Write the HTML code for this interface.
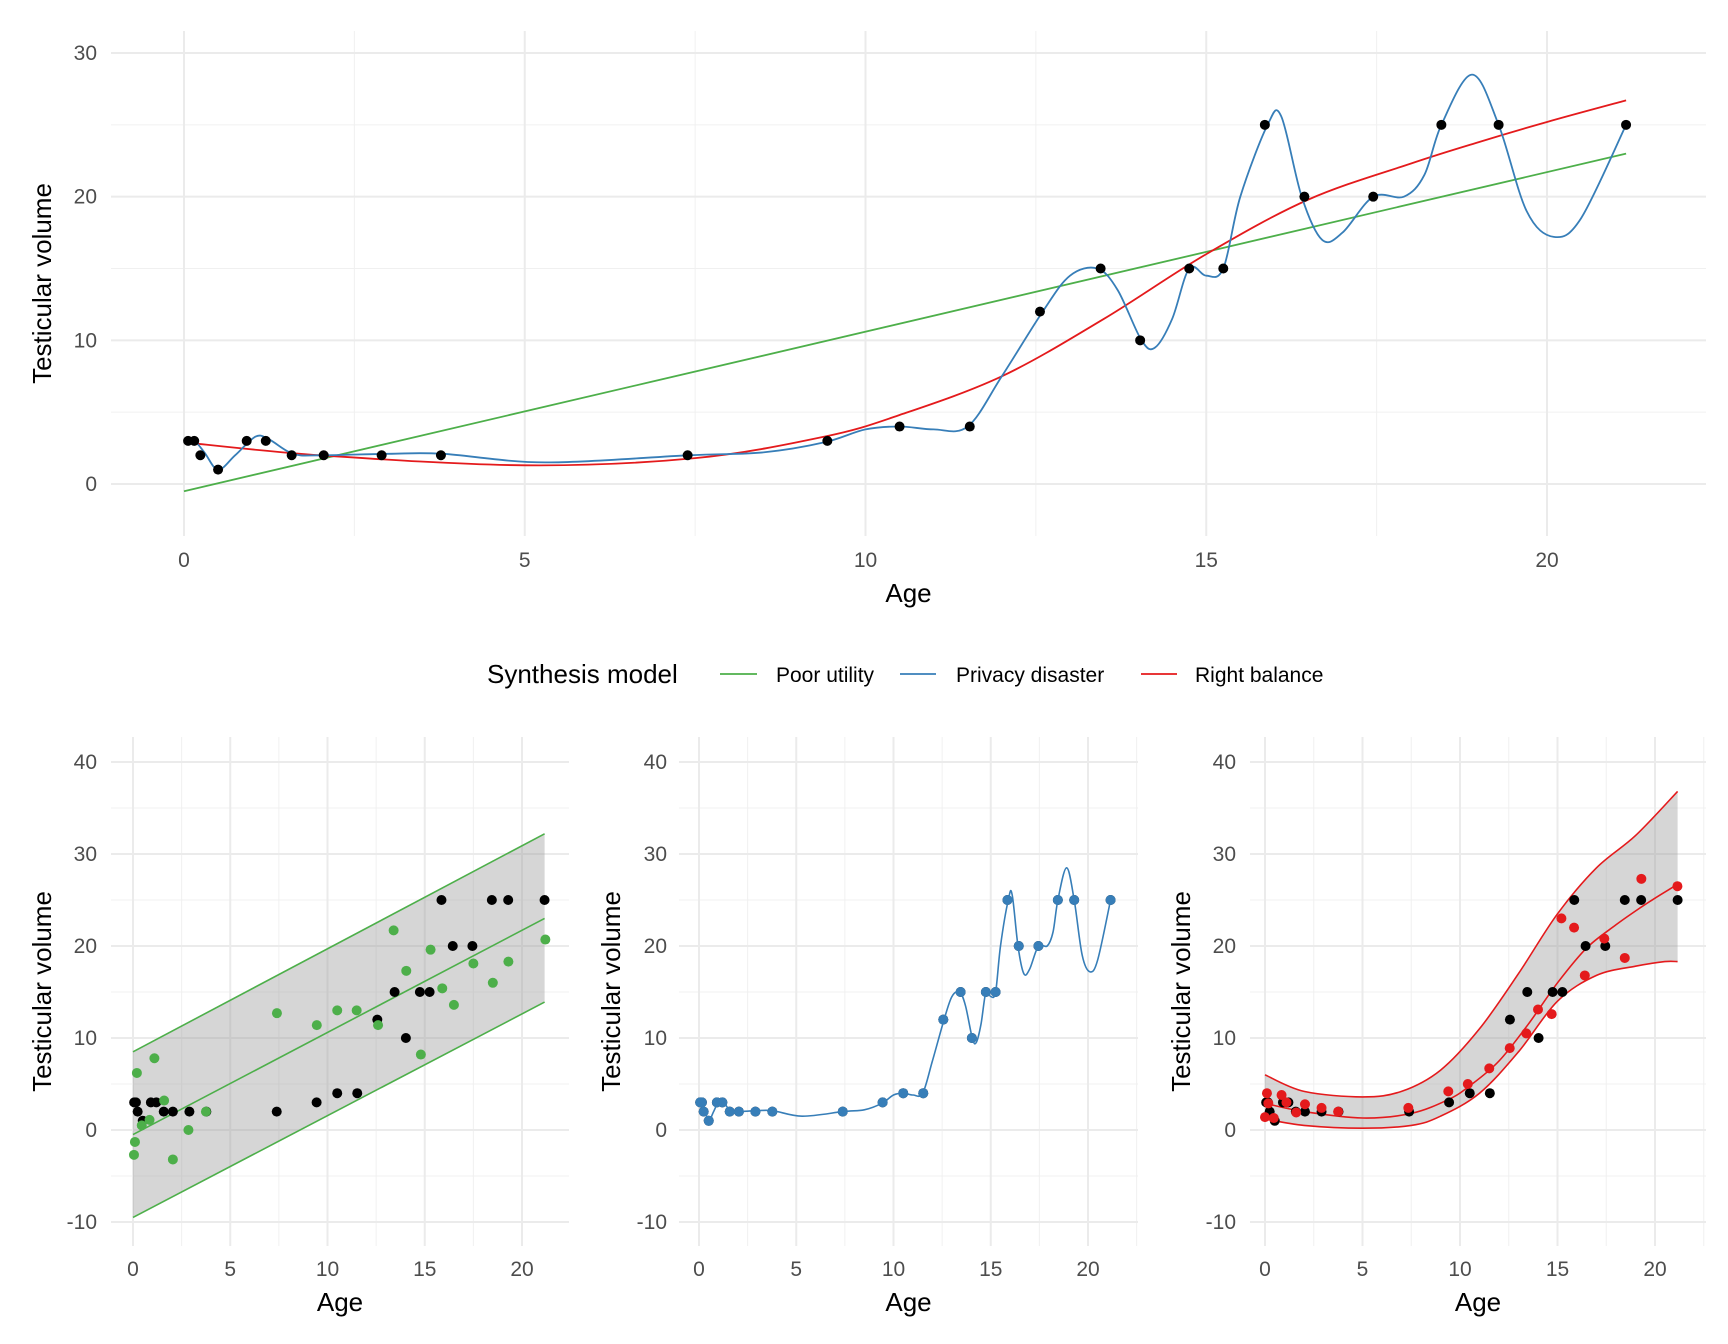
<!DOCTYPE html>
<html><head><meta charset="utf-8">
<style>
html,body{margin:0;padding:0;background:#fff;}
svg{display:block;font-family:"Liberation Sans",Arial,sans-serif;}
</style></head>
<body>
<svg id="chart" width="1728" height="1344" viewBox="0 0 1728 1344">
<g id="legend">
  <text x="487" y="683" font-size="26" fill="#000">Synthesis model</text>
  <line x1="720" y1="674" x2="757" y2="674" stroke="#4DAF4A" stroke-width="1.8"/>
  <text x="776" y="682" font-size="21">Poor utility</text>
  <line x1="900" y1="674" x2="936" y2="674" stroke="#377EB8" stroke-width="1.8"/>
  <text x="956" y="682" font-size="21">Privacy disaster</text>
  <line x1="1141" y1="674" x2="1177" y2="674" stroke="#E41A1C" stroke-width="1.8"/>
  <text x="1195" y="682" font-size="21">Right balance</text>
</g>
</svg>
<script>
// ---- data ----
const obsAge = [0.06,0.15,0.24,0.5,0.92,1.2,1.58,2.05,2.9,3.77,7.39,9.44,10.5,11.53,12.56,13.45,14.03,14.75,15.25,15.86,16.44,17.45,18.45,19.29,21.16];
const obsVol = [3,3,2,1,3,3,2,2,2,2,2,3,4,4,12,15,10,15,15,25,20,20,25,25,25];
const blueAge = [0,0.15,0.3,0.5,0.75,1.05,1.25,1.6,2,3,3.8,5.3,7.4,8.5,9.4,10,10.5,11,11.5,12,12.6,13,13.4,13.7,14.05,14.25,14.5,14.75,15,15.25,15.5,15.9,16.1,16.4,16.7,17,17.45,17.9,18.2,18.45,18.9,19.29,19.7,20.1,20.5,21.16];
const blueVol = [3,3,2.2,1.0,2,3.3,3.1,2.1,2,2.1,2.1,1.5,2,2.2,2.9,3.8,4,3.8,4,7.5,12,14.5,15,13.5,10,9.5,11.5,15,14.5,15,20,25,25.6,20,17,17.5,20,20,21.5,25,28.5,25,19,17.2,18.5,25];
const redAge = [0,2,5,7.5,9.4,10.5,12,13.5,15,16.5,18,19,20,21.16];
const redVol = [2.9,2,1.3,1.8,3.3,4.8,7.5,11.5,16,19.8,22.3,23.8,25.2,26.7];
const redUpperAge = [0,2,5,7,9,11,13,15,17,19,21.16];
const redUpper = [6,4.2,3.6,4.2,6.5,11,17,23.5,28.5,32,36.8];
const redLowerAge = [0,2,5,7.5,9,11,13,15,17,19,20.5,21.16];
const redLower = [1.2,0.5,0.2,0.5,1.5,4,8.5,14,16.8,17.8,18.3,18.3];
const greenAge = [0,21.16];
const greenVol = [-0.5,23];
const greenUpper = [8.5,32.2];
const greenLower = [-9.5,13.9];
const poorAge = [0.1,0.05,0.2,0.45,0.85,1.1,1.6,2.05,2.85,3.75,7.4,9.45,10.5,11.5,12.6,13.4,14.05,14.8,15.3,15.9,16.5,17.5,18.5,19.3,21.2];
const poorVol = [-1.3,-2.7,6.2,0.5,1.1,7.8,3.2,-3.2,0,2,12.7,11.4,13,13,11.4,21.7,17.3,8.2,19.6,15.4,13.6,18.1,16,18.3,20.7];
const rightAge = [0,0.1,0.17,0.45,0.85,1.1,1.6,2.05,2.9,3.75,7.35,9.4,10.4,11.5,12.55,13.4,14,14.7,15.2,15.85,16.4,17.4,18.45,19.3,21.15];
const rightVol = [1.4,4,2.9,1.3,3.8,3,1.9,2.8,2.4,2,2.4,4.2,5,6.7,8.9,10.5,13.1,12.6,23,22,16.8,20.8,18.7,27.3,26.5];
const topYTicks = [0,10,20,30];
const botYTicks = [-10,0,10,20,30,40];
const xTicks = [0,5,10,15,20];

const NS = "http://www.w3.org/2000/svg";
const svg = document.getElementById('chart');
function el(tag, attrs, parent){const e=document.createElementNS(NS,tag);for(const k in attrs)e.setAttribute(k,attrs[k]);(parent||svg).appendChild(e);return e;}
function smoothPath(pts){
  if(pts.length<3)return 'M'+pts.map(p=>p[0].toFixed(1)+','+p[1].toFixed(1)).join('L');
  let d='M'+pts[0][0].toFixed(1)+','+pts[0][1].toFixed(1);
  for(let i=0;i<pts.length-1;i++){
    const p0=pts[Math.max(0,i-1)],p1=pts[i],p2=pts[i+1],p3=pts[Math.min(pts.length-1,i+2)];
    const c1=[p1[0]+(p2[0]-p0[0])/6,p1[1]+(p2[1]-p0[1])/6];
    const c2=[p2[0]-(p3[0]-p1[0])/6,p2[1]-(p3[1]-p1[1])/6];
    d+='C'+c1.map(v=>v.toFixed(1)).join(',')+' '+c2.map(v=>v.toFixed(1)).join(',')+' '+p2[0].toFixed(1)+','+p2[1].toFixed(1);
  }
  return d;
}
function panel(cfg){
  const g=el('g',{});
  
  
  const X=v=>cfg.x0+(v)*(cfg.x20-cfg.x0)/20;
  const Y=v=>cfg.yA+(v-cfg.vA)*(cfg.yB-cfg.yA)/(cfg.vB-cfg.vA);
  const step=cfg.yStep;
  for(let v=cfg.yTicks[0]-step/2; v<=cfg.yTicks[cfg.yTicks.length-1]+step; v+=step){
    const y=Y(v); if(y<cfg.top||y>cfg.bottom)continue;
    const l=el('line',{x1:cfg.left,x2:cfg.right,y1:y,y2:y,stroke:'#f0f0f0','stroke-width':1},g);
    
    
  }
  for(let v=-2.5; v<=25; v+=5){
    const x=X(v); if(x<cfg.left||x>cfg.right)continue;
    const l=el('line',{x1:x,x2:x,y1:cfg.top,y2:cfg.bottom,stroke:'#f0f0f0','stroke-width':1},g);
    
    
  }
  cfg.yTicks.forEach(v=>{
    const y=Y(v);
    const l=el('line',{x1:cfg.left,x2:cfg.right,y1:y,y2:y,stroke:'#ebebeb','stroke-width':2},g);
    
    
    const t=el('text',{x:cfg.yLabX,y:y+7,'text-anchor':'end','font-size':cfg.tickFont,fill:'#4d4d4d'},g);
    t.textContent=v;
    
    
  });
  xTicks.forEach(v=>{
    const x=X(v);
    const l=el('line',{x1:x,x2:x,y1:cfg.top,y2:cfg.bottom,stroke:'#ebebeb','stroke-width':2},g);
    
    
    const t=el('text',{x:x,y:cfg.xLabY,'text-anchor':'middle','font-size':cfg.tickFont,fill:'#4d4d4d'},g);
    t.textContent=v;
    
    
  });
  const xt=el('text',{x:(cfg.left+cfg.right)/2,y:cfg.xTitleY,'text-anchor':'middle','font-size':26},g);
  xt.textContent='Age';
  
  
  const yt=el('text',{x:0,y:0,'text-anchor':'middle','font-size':26,transform:`translate(${cfg.yTitleX},${(cfg.top+cfg.bottom)/2}) rotate(-90)`},g);
  yt.textContent='Testicular volume';
  
  
  cfg.draw(g,X,Y);
}
function dots(g,ages,vals,color,X,Y,name){
  ages.forEach((a,i)=>{
    const c=el('circle',{cx:X(a),cy:Y(vals[i]),r:5,fill:color},g);
    
    
  });
}
function curve(g,ages,vals,color,X,Y,name,w){
  const p=el('path',{d:smoothPath(ages.map((a,i)=>[X(a),Y(vals[i])])),fill:'none',stroke:color,'stroke-width':w||1.8},g);
  
  
}
function band(g,uA,uV,lA,lV,X,Y,name){
  const up=uA.map((a,i)=>[X(a),Y(uV[i])]);
  const lo=lA.map((a,i)=>[X(a),Y(lV[i])]).reverse();
  let d=smoothPath(up);
  d+='L'+smoothPath(lo).slice(1)+'Z';
  const p=el('path',{d:d,fill:'#999','fill-opacity':0.4,stroke:'none'},g);
  
  
}
panel({name:'top-panel',left:111,right:1706,top:31,bottom:536,x0:184,x20:1547,yA:484,vA:0,yB:53,vB:30,yStep:10,yTicks:topYTicks,
  yLabX:97,xLabY:567,xTitleY:602,yTitleX:51,tickFont:21,
  draw:(g,X,Y)=>{
    curve(g,greenAge,greenVol,'#4DAF4A',X,Y,'poor-utility-line');
    curve(g,redAge,redVol,'#E41A1C',X,Y,'right-balance-line');
    curve(g,blueAge,blueVol,'#377EB8',X,Y,'privacy-disaster-line');
    dots(g,obsAge,obsVol,'#000',X,Y,'observed-point');
  }});
const bot={top:737,bottom:1246,yA:1130,vA:0,yB:762,vB:40,yStep:10,yTicks:botYTicks,xLabY:1276,xTitleY:1311,tickFont:21};
panel(Object.assign({},bot,{name:'poor-utility-panel',left:111,right:569,x0:133,x20:522,yLabX:97,yTitleX:51,
  draw:(g,X,Y)=>{
    band(g,greenAge,greenUpper,greenAge,greenLower,X,Y,'poor-utility-band');
    curve(g,greenAge,greenUpper,'#4DAF4A',X,Y,'poor-utility-upper',1.6);
    curve(g,greenAge,greenVol,'#4DAF4A',X,Y,'poor-utility-line',1.6);
    curve(g,greenAge,greenLower,'#4DAF4A',X,Y,'poor-utility-lower',1.6);
    dots(g,obsAge,obsVol,'#000',X,Y,'observed-point');
    dots(g,poorAge,poorVol,'#4DAF4A',X,Y,'poor-utility-point');
  }}));
panel(Object.assign({},bot,{name:'privacy-disaster-panel',left:679,right:1138,x0:699,x20:1088,yLabX:667,yTitleX:620,
  draw:(g,X,Y)=>{
    dots(g,obsAge,obsVol,'#000',X,Y,'observed-point');
    curve(g,blueAge,blueVol,'#377EB8',X,Y,'privacy-disaster-line',1.6);
    dots(g,obsAge,obsVol,'#377EB8',X,Y,'privacy-disaster-point');
  }}));
panel(Object.assign({},bot,{name:'right-balance-panel',left:1250,right:1706,x0:1265,x20:1655,yLabX:1236,yTitleX:1190,
  draw:(g,X,Y)=>{
    band(g,redUpperAge,redUpper,redLowerAge,redLower,X,Y,'right-balance-band');
    curve(g,redUpperAge,redUpper,'#E41A1C',X,Y,'right-balance-upper',1.6);
    curve(g,redAge,redVol,'#E41A1C',X,Y,'right-balance-line',1.6);
    curve(g,redLowerAge,redLower,'#E41A1C',X,Y,'right-balance-lower',1.6);
    dots(g,obsAge,obsVol,'#000',X,Y,'observed-point');
    dots(g,rightAge,rightVol,'#E41A1C',X,Y,'right-balance-point');
  }}));
</script>
</body></html>
